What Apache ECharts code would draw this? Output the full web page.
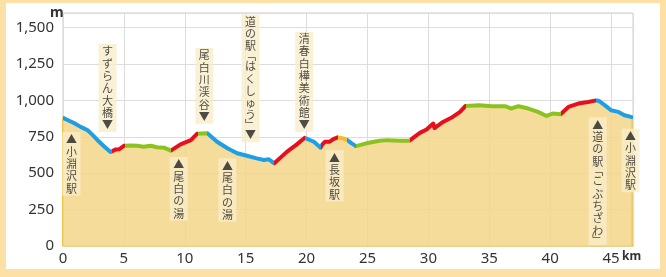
<!DOCTYPE html>
<html>
<head>
<meta charset="utf-8">
<script src="https://cdn.jsdelivr.net/npm/echarts@6/dist/echarts.min.js"></script>
<style>
  html, body { margin: 0; padding: 0; }
  body { width: 666px; height: 277px; background: #fde0a6; position: relative; overflow: hidden; }
  #main { position: absolute; left: 6px; top: 3px; width: 654px; height: 266px; background: #fff; }
</style>
</head>
<body>
<div id="main"></div>
<script>
// 距離(km)と標高(m)
const distanceKm = [0, 0.5, 1.0, 1.45, 2.0, 2.4, 2.8, 3.36, 3.9, 4.0, 4.3, 4.6, 5.0, 5.1, 5.6, 6.1, 6.6, 7.2, 7.7, 8.3, 8.85,
  9.0, 9.65, 10.5, 11.0, 11.1, 11.85, 12.0, 12.65, 13.5, 14.3, 15.1, 15.9, 16.5, 16.9, 17.35, 18.4, 19.2, 19.85,
  20.0, 20.6, 21.15, 21.25, 21.5, 21.9, 22.2, 22.55, 23.0, 23.35, 23.7, 24.05, 24.9, 26.0, 26.6, 27.6, 28.45,
  29.3, 29.85, 30.4, 30.5, 31.2, 32.0, 32.6, 33.05, 34.2, 35.2, 36.3, 36.8, 37.4, 38.2, 39.0, 39.7, 40.2, 40.85,
  41.5, 42.3, 43.1, 43.8, 44.0, 44.5, 45.0, 45.6, 46.1, 46.7]
const elevationM = [880, 860, 840, 818, 796, 765, 730, 685, 645, 640, 662, 664, 688, 693, 690, 688, 682, 688, 678, 675, 655,
  666, 698, 727, 770, 775, 775, 762, 716, 671, 637, 620, 602, 591, 595, 568, 648, 698, 743,
  739, 716, 675, 693, 716, 716, 734, 746, 739, 727, 705, 686, 705, 723, 727, 723, 723,
  777, 800, 841, 810, 852, 886, 921, 962, 966, 960, 960, 944, 960, 944, 921, 893, 910, 905,
  955, 978, 989, 1000, 996, 966, 932, 921, 898, 885]

// 区間の開始km と 種類
const sectionStartKm = [0, 4.0, 5.05, 8.85, 11.1, 11.85, 17.35, 19.85, 21.15, 22.55, 23.35, 24.05, 28.45, 33.05, 40.85, 43.8]
const sectionType = ['down', 'up', 'flat', 'up', 'flat', 'down', 'up', 'down', 'up', 'station', 'down', 'flat', 'up', 'flat', 'up', 'down']

// 見どころ
const spotNames = ['すずらん大橋', '尾白川渓谷', '道の駅﹁はくしゅう﹂', '清春白樺美術館', '小淵沢駅', '尾白の湯', '尾白の湯', '長坂駅', '道の駅﹁こぶちざわ﹂', '小淵沢駅']
const spotKm = [3.66, 11.6, 15.4, 19.8, 0.69, 9.5, 13.5, 22.3, 43.9, 46.6]
const spotSide = ['above', 'above', 'above', 'above', 'below', 'below', 'below', 'below', 'below', 'below']
const spotAnchorM = [782, 839, 713, 782, 782, 611, 602, 657, 884, 805]

const yTicks = [0, 250, 500, 750, 1000, 1250, 1500]
const xTicks = [0, 5, 10, 15, 20, 25, 30, 35, 40, 45]

const typeColor = { down: '#1e9fe3', up: '#e60f1c', flat: '#8cc21f', station: '#f4b92c' }
const xMax = 46.8
const yMax = 1600

const myChart = echarts.init(document.getElementById('main'))

const profile = distanceKm.map((d, i) => [d, elevationM[i]])
const last = distanceKm.length - 1

const pieces = sectionStartKm.map((s, i) => {
  const p = { gte: s, color: typeColor[sectionType[i]] }
  if (i < sectionStartKm.length - 1) p.lt = sectionStartKm[i + 1]
  else p.lte = xMax
  return p
})

// 縦書き（かぎ括弧は詰める）
const toVertical = (chars) => chars.map(c => (c === '﹁' || c === '﹂') ? `{b|${c}}` : `{t|${c}}`).join('\n')

const spots = spotNames.map((n, i) => {
  const chars = n.split('')
  const text = spotSide[i] === 'above' ? toVertical(chars.concat('▼')) : toVertical(['▲'].concat(chars))
  return {
    value: [spotKm[i], spotAnchorM[i]],
    label: { position: spotSide[i] === 'above' ? 'top' : 'bottom', formatter: text }
  }
})

const font = '"Noto Sans", "Noto Sans CJK JP", sans-serif'

const option = {
  animation: false,
  grid: {
    left: 57, top: 10, right: 27, bottom: 23,
    show: true, borderColor: '#cfcfcf', borderWidth: 1
  },
  xAxis: {
    type: 'value', min: 0, max: xMax, interval: 5,
    axisLine: { show: true, lineStyle: { color: '#eccb74', width: 1.5 } },
    axisTick: { show: false },
    axisLabel: {
      margin: 5, fontSize: 15, color: '#333', fontFamily: font, showMaxLabel: false,
      formatter: v => xTicks.includes(v) ? String(v) : ''
    },
    splitLine: { show: true, lineStyle: { color: '#dddddd', width: 1 } }
  },
  yAxis: {
    type: 'value', min: 0, max: yMax, interval: 250,
    axisLine: { show: false },
    axisTick: { show: false },
    axisLabel: {
      margin: 9, fontSize: 15, color: '#333', fontFamily: font, showMaxLabel: false,
      formatter: v => yTicks.includes(v) ? v.toLocaleString('en-US') : ''
    },
    splitLine: { show: true, lineStyle: { color: '#dddddd', width: 1 } }
  },
  visualMap: {
    show: false, type: 'piecewise', dimension: 0, seriesIndex: 0,
    pieces: pieces
  },
  graphic: [
    { type: 'text', left: 44, top: 3, style: { text: 'm', font: 'bold 14px "Noto Sans", sans-serif', fill: '#333' } },
    { type: 'text', left: 616, top: 248, style: { text: 'km', font: 'bold 12px "Noto Sans", sans-serif', fill: '#333' } }
  ],
  series: [
    {
      type: 'line',
      data: profile,
      symbol: 'none',
      z: 3,
      lineStyle: { width: 4, join: 'round', cap: 'round' },
      areaStyle: { color: '#f5d68a', opacity: 0.85 }
    },
    {
      type: 'line', symbol: 'none', z: 2,
      data: [[distanceKm[0], 0], [distanceKm[0], elevationM[0]]],
      lineStyle: { color: '#f0c24a', width: 2 }
    },
    {
      type: 'line', symbol: 'none', z: 2,
      data: [[distanceKm[last], elevationM[last]], [distanceKm[last], 0]],
      lineStyle: { color: '#f0c24a', width: 2 }
    },
    {
      type: 'scatter',
      data: spots,
      symbolSize: 0,
      z: 5,
      label: {
        show: true,
        distance: 0,
        fontFamily: '"Noto Sans CJK JP", sans-serif',
        color: '#222',
        backgroundColor: '#f9edc9',
        padding: [1, 3.5, 1, 3.5],
        align: 'center',
        rich: {
          t: { fontSize: 11, lineHeight: 12.3, fontFamily: '"Noto Sans CJK JP", sans-serif', color: '#222' },
          b: { fontSize: 11, lineHeight: 7.5, fontFamily: '"Noto Sans CJK JP", sans-serif', color: '#222' }
        }
      }
    }
  ]
}

myChart.setOption(option)
window.addEventListener('resize', myChart.resize)
</script>
</body>
</html>
